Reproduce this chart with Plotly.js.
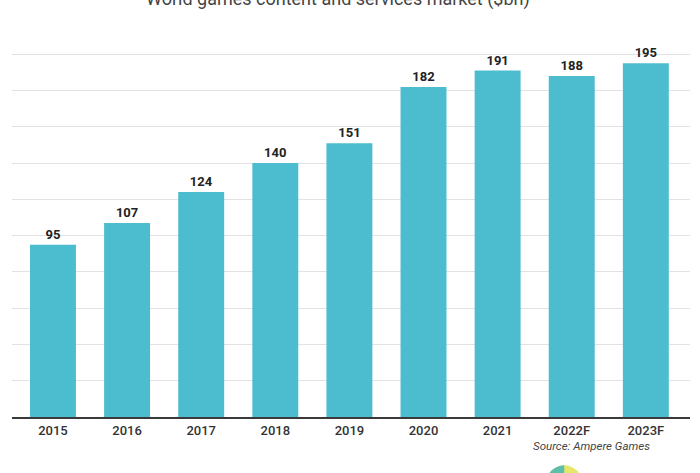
<!DOCTYPE html>
<html>
<head>
<meta charset="utf-8">
<script src="https://cdn.plot.ly/plotly-3.0.1.min.js"></script>
<style>
  html, body { margin: 0; padding: 0; background: #fff; }
  #chart { width: 700px; height: 473px; }
</style>
</head>
<body>
<div id="chart"></div>
<script>
// World games content and services market, $bn
let years = ['2015', '2016', '2017', '2018', '2019', '2020', '2021', '2022F', '2023F']
let market = [95, 107, 124, 140, 151, 182, 191, 188, 195]

let barColor = '#4bbdce'

let trace = {
    type: 'bar',
    x: years,
    y: market,
    text: market.map(v => String(v)),
    textposition: 'outside',
    cliponaxis: false,
    textfont: { family: 'Roboto', size: 13, color: '#222', weight: 700 },
    marker: { color: barColor },
    hoverinfo: 'x+y'
}

let layout = {
    width: 700,
    height: 473,
    margin: { l: 12, r: 10, t: 18, b: 55.5 },
    paper_bgcolor: '#fff',
    plot_bgcolor: '#fff',
    showlegend: false,
    bargap: 0.38,
    font: { family: 'Roboto', color: '#333' },
    xaxis: {
        type: 'category',
        range: [-0.553, 8.596],
        showline: true,
        linecolor: '#3a3a3a',
        linewidth: 2,
        ticks: '',
        showgrid: false,
        tickfont: { family: 'Roboto', size: 13, color: '#333', weight: 500 }
    },
    yaxis: {
        range: [0, 220],
        dtick: 20,
        showticklabels: false,
        gridcolor: '#e2e2e2',
        gridwidth: 1,
        zeroline: false,
        ticks: ''
    },
    annotations: [
        {
            text: 'World games content and services market ($bn)',
            xref: 'paper', yref: 'paper',
            x: 0.481, y: 1.0476,
            xanchor: 'center', yanchor: 'middle',
            showarrow: false,
            font: { family: 'Roboto', size: 18, color: '#444' }
        },
        {
            text: '<i>Source: Ampere Games</i>',
            xref: 'paper', yref: 'paper',
            x: 0.944, y: -0.073,
            xanchor: 'right', yanchor: 'middle',
            showarrow: false,
            font: { family: 'Roboto', size: 11.5, color: '#444' }
        }
    ],
    shapes: [
        {
            type: 'circle', xref: 'paper', yref: 'paper',
            x0: 0.788, x1: 0.841, y0: -0.211, y1: -0.121,
            fillcolor: '#e6e76a', line: { width: 0 }
        },
        {
            type: 'path', xref: 'paper', yref: 'paper',
            path: 'M 0.8145 -0.121 L 0.8145 -0.166 L 0.788 -0.166 Q 0.790 -0.125 0.8145 -0.121 Z',
            fillcolor: '#5cbfae', line: { width: 0 }
        }
    ]
}

Plotly.newPlot('chart', [trace], layout, { displayModeBar: false, staticPlot: true })
</script>
</body>
</html>
